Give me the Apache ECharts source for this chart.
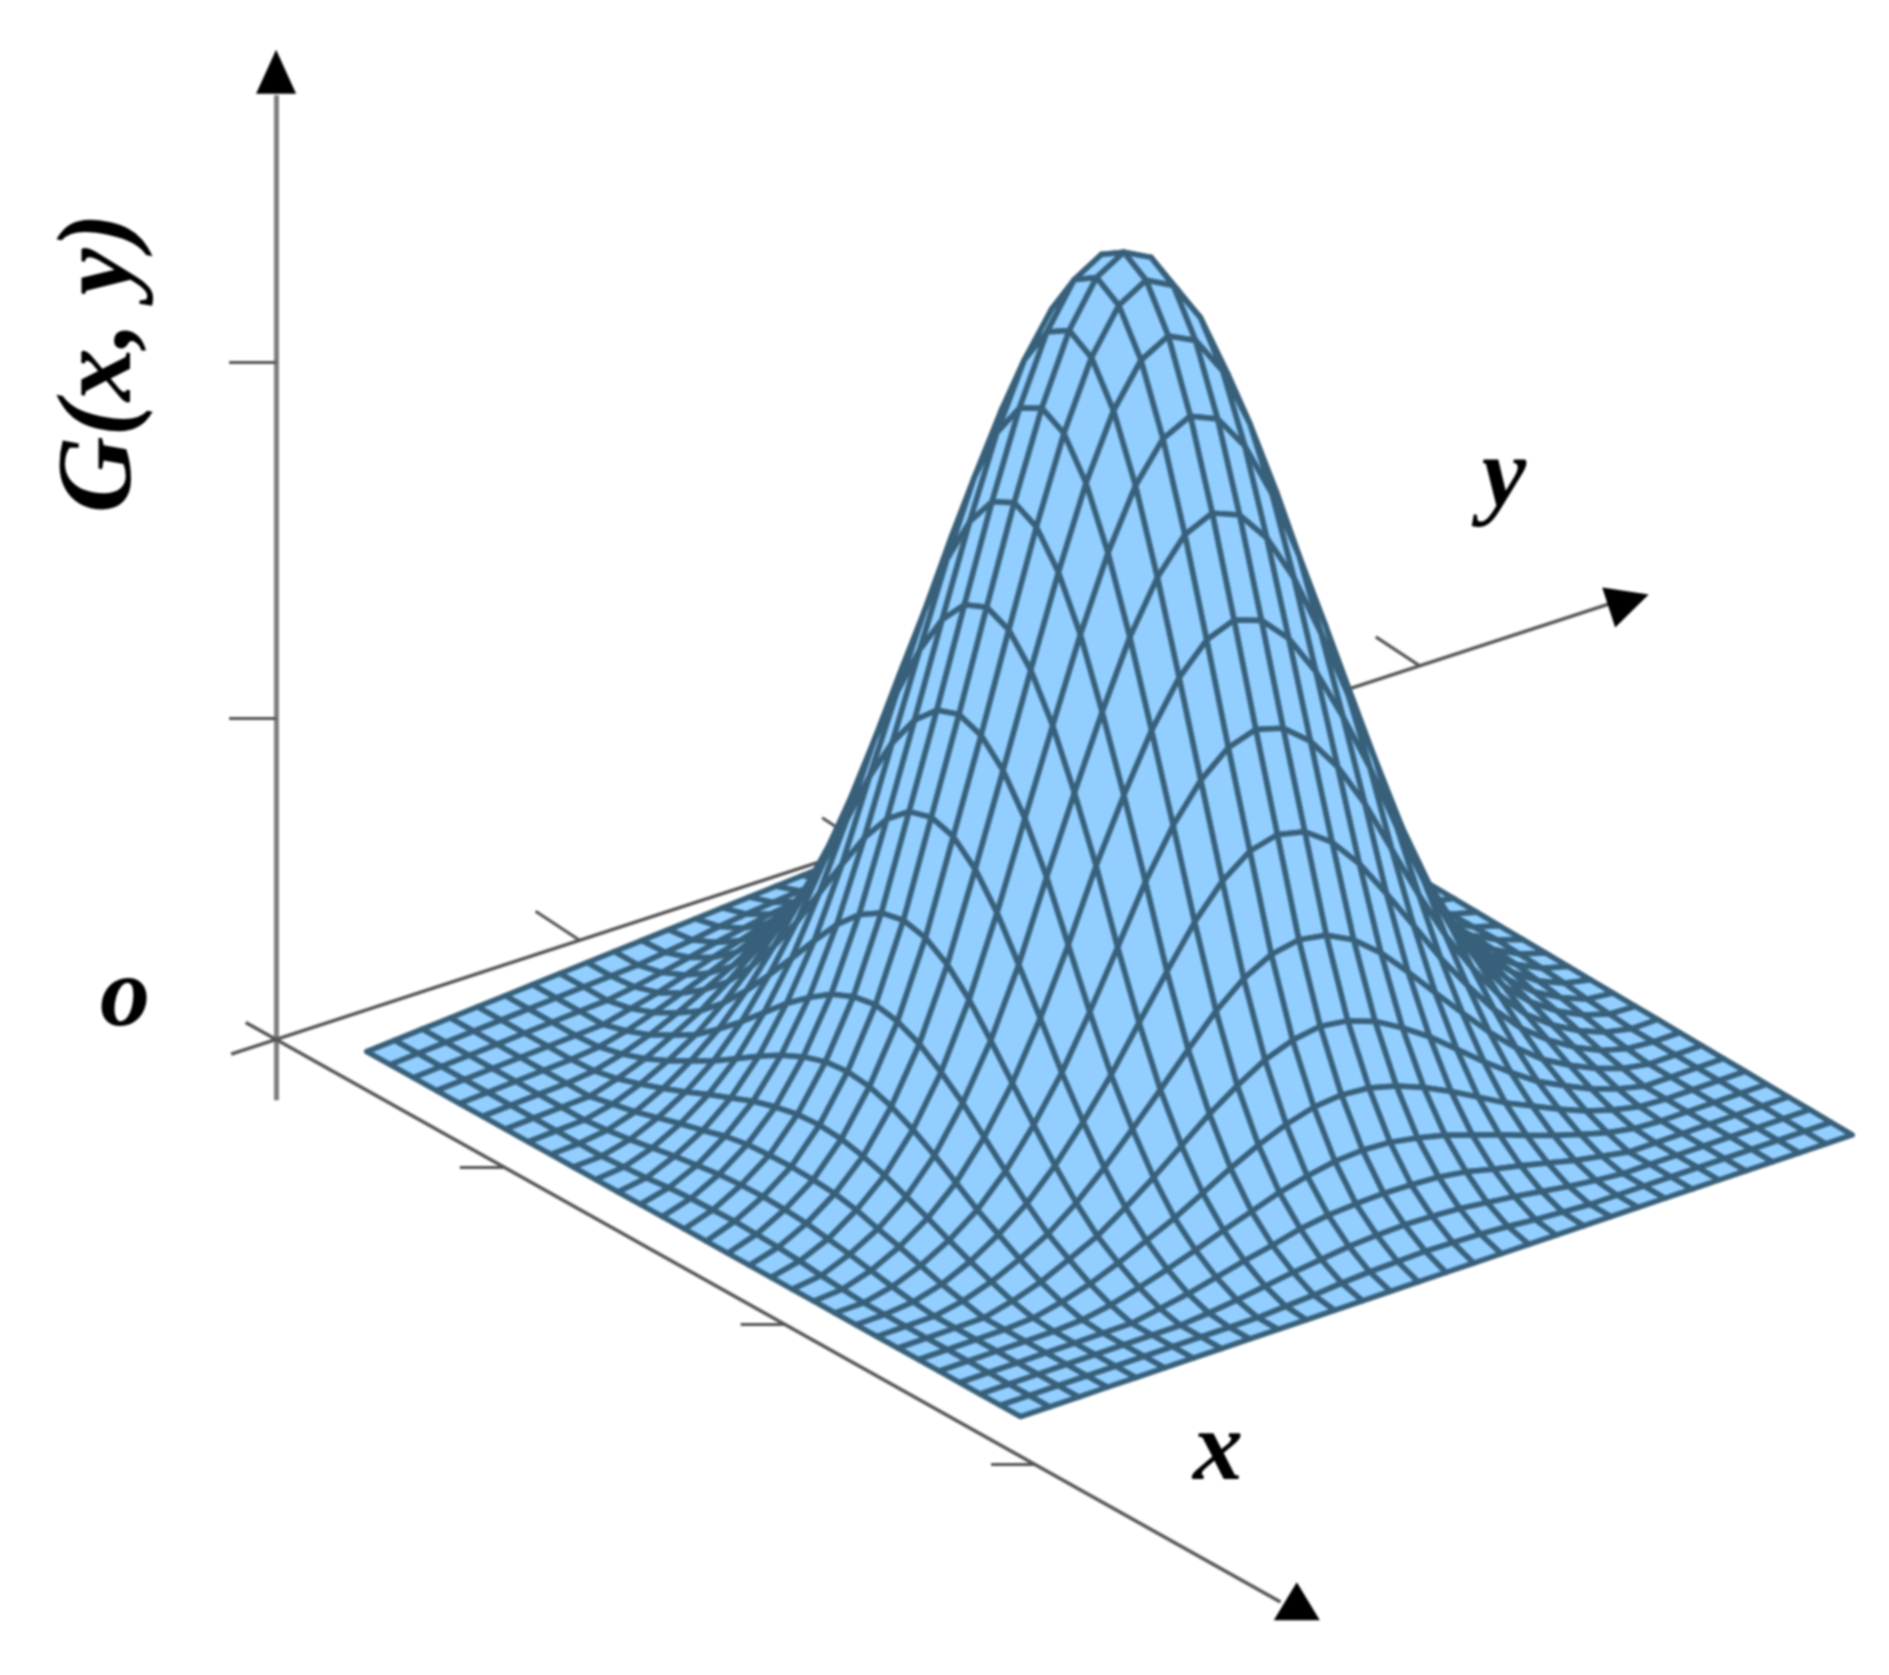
<!DOCTYPE html>
<html>
<head>
<meta charset="utf-8">
<style>
html,body{margin:0;padding:0;background:#fff;}
#main{width:1889px;height:1675px;filter:blur(1px);}
</style>
<script src="https://cdn.jsdelivr.net/npm/echarts@6/dist/echarts.min.js"></script>
</head>
<body>
<div id="main"></div>
<script>
// Height of the surface, per mille of the z unit, one quadrant: row/column = cells away from the summit
var heightQuadrant = [
[990,972,921,841,741,629,514,404,294,206,139,88,51,28,11,0],
[972,954,904,826,727,617,504,396,288,201,136,86,50,27,10,0],
[921,904,856,782,688,584,477,372,271,189,127,80,48,25,9,0],
[841,826,782,714,629,533,435,335,244,170,114,72,43,21,7,0],
[741,727,688,629,552,468,380,288,210,148,98,61,35,17,4,0],
[629,617,584,533,468,396,314,239,174,122,80,50,28,12,2,0],
[514,504,477,435,380,314,249,189,139,96,62,38,20,7,0,0],
[404,396,372,335,288,239,189,145,105,72,47,27,12,3,0,0],
[294,288,271,244,210,174,139,105,75,50,32,17,6,0,0,0],
[206,201,189,170,148,122,96,72,50,34,19,8,0,0,0,0],
[139,136,127,114,98,80,62,47,32,19,9,2,0,0,0,0],
[88,86,80,72,61,50,38,27,17,8,2,0,0,0,0,0],
[51,50,48,43,35,28,20,12,6,0,0,0,0,0,0,0],
[28,27,25,21,17,12,7,3,0,0,0,0,0,0,0,0],
[11,10,9,7,4,2,0,0,0,0,0,0,0,0,0,0],
[0,0,0,0,0,0,0,0,0,0,0,0,0,0,0,0]
];
// surface footprint on the floor, in axis units: left, bottom, right, back corner
var cornerLeft = [0.186,0.155];
var cornerBottom = [2.765,0.16];
var cornerRight = [2.72,3.16];
var cornerBack = [-0.09,3.25];
var xAxisRange = [-0.12, 3.97];
var yAxisRange = [-0.16, 4.75];
var zAxisRange = [-0.072, 1.12];
var xTicks = [0.9, 2.01, 3.0];
var yTicks = [1.08, 2.1, 3.1, 4.07];
var zTicks = [0.381, 0.803];
var arrowsAt = [[3.99,0.04,0],[0.015,4.8,0],[0,0,1.148]];
var labels = [
  {text:'G(x, y)', at:[103,363], rotation:Math.PI/2, size:106},
  {text:'x', at:[1218,1453], rotation:0, size:100},
  {text:'y', at:[1504,480], rotation:0, size:100},
  {text:'o', at:[125,999], rotation:0, size:100}
];

// oblique projection of the three axes onto the page
var origin = [276.1,1039.5], ex = [253,141.7], ey = [281,-91.8], ez = [0,-843];
var warpX = 0.077, warpY = 0.046; // slight perspective of the floor
function project(x,y,z){
  return [origin[0]+x*ex[0]+y*ey[0]+z*ez[0], origin[1]+x*ex[1]+y*ey[1]+z*ez[1]];
}
var N = (heightQuadrant.length-1)*2;
function heightAt(i,j){ return heightQuadrant[Math.abs(i-N/2)][Math.abs(j-N/2)]/1000; }
function vertex(i,j){
  var s = i/N, t = j/N;
  s = s + warpX*s*(1-s);
  t = t + warpY*t*(1-t);
  var nearEdge = [cornerLeft[0]+(cornerBottom[0]-cornerLeft[0])*s, cornerLeft[1]+(cornerBottom[1]-cornerLeft[1])*s];
  var farEdge = [cornerBack[0]+(cornerRight[0]-cornerBack[0])*s, cornerBack[1]+(cornerRight[1]-cornerBack[1])*s];
  return project(nearEdge[0]+(farEdge[0]-nearEdge[0])*t, nearEdge[1]+(farEdge[1]-nearEdge[1])*t, heightAt(i,j));
}
var quads = [];
for (var i=0;i<N;i++){
  for (var j=N-1;j>=0;j--){
    var a=vertex(i,j),b=vertex(i+1,j),c=vertex(i+1,j+1),d=vertex(i,j+1);
    quads.push([a[0],a[1],b[0],b[1],c[0],c[1],d[0],d[1]]);
  }
}
function seg(p,q){ return {coords:[p,q]}; }
var axisX = [seg(project(xAxisRange[0],0,0),project(xAxisRange[1],0,0))];
var axisY = [seg(project(0,yAxisRange[0],0),project(0,yAxisRange[1],0))];
var axisZ = [seg(project(0,0,zAxisRange[0]),project(0,0,zAxisRange[1]))];
var tickSegs = [];
xTicks.forEach(function(t){ var p=project(t,0,0); tickSegs.push(seg(p,[p[0]-44,p[1]])); });
yTicks.forEach(function(t){ var p=project(0,t,0); tickSegs.push(seg(p,[p[0]-44,p[1]-29])); });
zTicks.forEach(function(t){ var p=project(0,0,t); tickSegs.push(seg(p,[p[0]-47,p[1]])); });

var chart = echarts.init(document.getElementById('main'),null,{renderer:'canvas'});
function lineSeries(data,color,width){
  return {type:'lines',coordinateSystem:'cartesian2d',polyline:false,data:data,silent:true,z:1,
    lineStyle:{color:color,width:width,opacity:1,cap:'butt'},effect:{show:false}};
}
chart.setOption({
  animation:false,
  backgroundColor:'#ffffff',
  grid:{left:0,right:0,top:0,bottom:0},
  xAxis:{type:'value',min:0,max:1889,show:false},
  yAxis:{type:'value',min:0,max:1675,inverse:true,show:false},
  graphic:labels.map(function(l){
    return {type:'text',x:l.at[0],y:l.at[1],rotation:l.rotation,z:10,
      style:{text:l.text,fill:'#000',font:'italic bold '+l.size+'px "Liberation Serif"',align:'center',verticalAlign:'middle'}};
  }),
  series:[
    lineSeries(axisZ,'#7f7f7f',5),
    lineSeries(axisX,'#555555',3.5),
    lineSeries(axisY,'#555555',3.5),
    lineSeries(tickSegs,'#555555',3),
    {type:'scatter',silent:true,z:2,symbol:'triangle',
     data:[
       {value:project.apply(null,arrowsAt[0]),symbolSize:[46,38],symbolRotate:0},
       {value:project.apply(null,arrowsAt[1]),symbolSize:[42,42],symbolRotate:-72},
       {value:project.apply(null,arrowsAt[2]),symbolSize:[40,44],symbolRotate:0}
     ],
     itemStyle:{color:'#000',opacity:1}},
    {type:'custom',coordinateSystem:'cartesian2d',silent:true,z:3,clip:false,progressive:0,
     data:quads,
     renderItem:function(params,api){
       var pts=[];
       for(var k=0;k<4;k++){ pts.push(api.coord([api.value(2*k),api.value(2*k+1)])); }
       return {type:'polygon',shape:{points:pts},
         style:{fill:'#92ceff',stroke:'#38607a',lineWidth:5.5,lineJoin:'round'}};
     }}
  ]
});
</script>
</body>
</html>
